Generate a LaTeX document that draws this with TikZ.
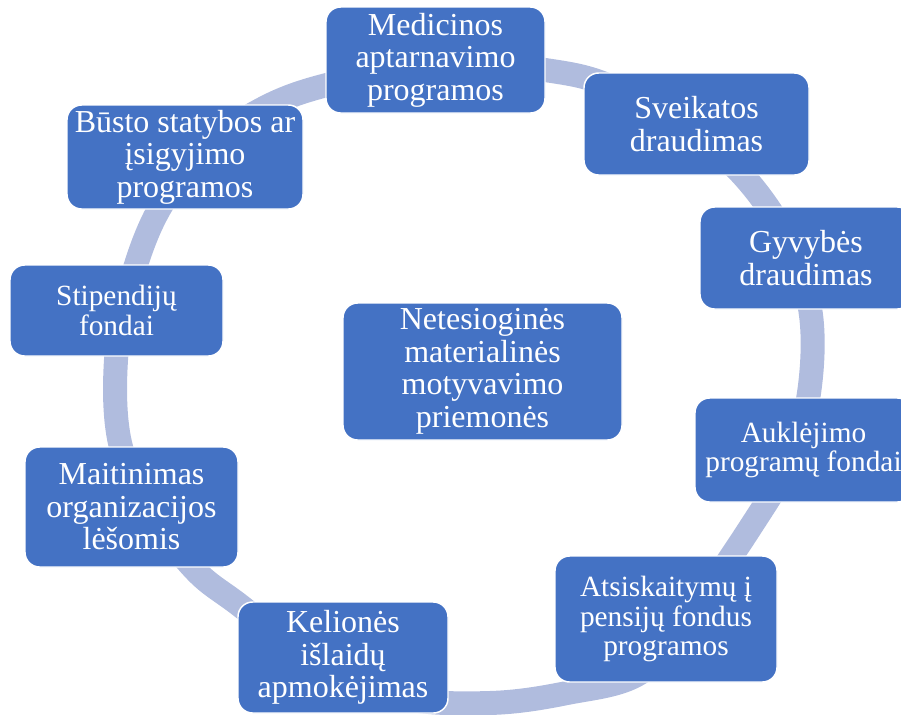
\documentclass[tikz,border=0pt]{standalone}
\usepackage{fontspec}
\setmainfont{Liberation Serif}
\usepackage{xcolor}
\definecolor{boxblue}{RGB}{68,114,196}
\definecolor{ringblue}{RGB}{176,188,222}
\tikzset{
    item/.style={draw=white, line width=1.1pt, fill=boxblue, rounded corners=11pt,
        text=white, align=center, inner sep=0pt,
        font=\fontsize{24}{24.4}\selectfont},
    smallitem/.style={item, font=\fontsize{22}{22.4}\selectfont},
    ring/.style={draw=ringblue, line width=18pt},
}

\begin{document}
\begin{tikzpicture}[x=0.75pt, y=-0.75pt]
    \useasboundingbox (0,0) rectangle (901,715);
    % ring behind the boxes
    \draw[ring] plot[smooth cycle, tension=0.6] coordinates {
        (450,62) (545,70) (610,86) (690,130) (747,180) (790,245)
        (811,315) (809,393) (790,460) (750,528) (690,615)
        (640,673) (567,693) (490,703) (400,698) (320,668) (242,607)
        (195,570) (150,510) (120,443) (116,360) (130,285)
        (157,213) (200,155) (253,114) (323,86)};
    \node[item, minimum width=164.25pt, minimum height=79.5pt] (med) at (435.5,60) {Medicinos\\aptarnavimo\\programos};
    \node[item, minimum width=168.75pt, minimum height=76.5pt] (sveik) at (696.5,124) {Sveikatos\\draudimas};
    \node[item, minimum width=159pt, minimum height=76.5pt] (gyv) at (806,258) {Gyvybės\\draudimas};
    \node[smallitem, minimum width=162.75pt, minimum height=78pt] (aukl) at (803.5,450) {Auklėjimo\\programų fondai};
    \node[smallitem, minimum width=166.5pt, minimum height=94.5pt] (atsisk) at (666,619) {Atsiskaitymų į\\pensijų fondus\\programos};
    \node[item, minimum width=157.5pt, minimum height=83.25pt] (kel) at (343,657.5) {Kelionės\\išlaidų\\apmokėjimas};
    \node[item, minimum width=159.75pt, minimum height=90pt] (mait) at (131.5,507) {Maitinimas\\organizacijos\\lėšomis};
    \node[smallitem, minimum width=159.75pt, minimum height=68.25pt] (stip) at (116.5,310.5) {Stipendijų\\fondai};
    \node[item, minimum width=177pt, minimum height=78pt] (busto) at (185,157) {Būsto statybos ar\\įsigyjimo\\programos};
    \node[item, minimum width=209.25pt, minimum height=102.75pt] (centras) at (482.5,371.5) {Netesioginės\\materialinės\\motyvavimo\\priemonės};
\end{tikzpicture}
\end{document}
